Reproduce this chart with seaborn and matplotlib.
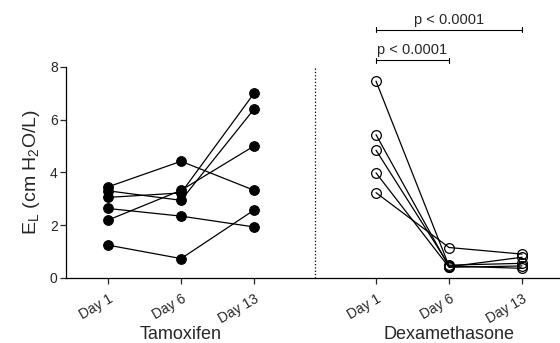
import seaborn as sns
import matplotlib.pyplot as plt
import matplotlib.transforms as mtransforms
import pandas as pd

sns.set_style("white")
plt.rcParams['font.family'] = ['Liberation Sans', 'DejaVu Sans']
plt.rcParams['mathtext.fontset'] = 'custom'
plt.rcParams['mathtext.rm'] = 'Liberation Sans'

# data
days = ['Day 1', 'Day 6', 'Day 13']
tam_pos = [0, 1, 2]
dex_pos = [3.67, 4.67, 5.67]

tam_day1 = [3.45, 3.30, 3.05, 2.19, 2.63, 1.24]
tam_day6 = [4.42, 2.94, 3.22, 3.32, 2.34, 0.73]
tam_day13 = [3.32, 6.40, 7.00, 5.00, 1.93, 2.57]

dex_day1 = [3.23, 7.46, 5.43, 4.84, 3.98]
dex_day6 = [1.15, 0.45, 0.42, 0.48, 0.40]
dex_day13 = [0.90, 0.36, 0.78, 0.55, 0.45]

p_labels = ['p < 0.0001', 'p < 0.0001']

rows = []
for i in range(len(tam_day1)):
    for pos, vals in zip(tam_pos, [tam_day1, tam_day6, tam_day13]):
        rows.append({'group': 'Tamoxifen', 'subject': 'T%d' % i, 'pos': pos, 'EL': vals[i]})
for i in range(len(dex_day1)):
    for pos, vals in zip(dex_pos, [dex_day1, dex_day6, dex_day13]):
        rows.append({'group': 'Dexamethasone', 'subject': 'D%d' % i, 'pos': pos, 'EL': vals[i]})
df = pd.DataFrame(rows)

fig = plt.figure(figsize=(5.6, 3.43), dpi=100)
ax = fig.add_axes([0.118, 0.19, 0.882, 0.615])

tam = df[df['group'] == 'Tamoxifen']
dex = df[df['group'] == 'Dexamethasone']
sns.lineplot(data=tam, x='pos', y='EL', units='subject', estimator=None, color='black',
             lw=0.9, marker='o', ms=7, mfc='black', mec='black', ax=ax, legend=False)
sns.lineplot(data=dex, x='pos', y='EL', units='subject', estimator=None, color='black',
             lw=0.9, marker='o', ms=7, mfc='none', mec='black', mew=0.9, ax=ax, legend=False)

# dotted separator
ax.plot([2.84, 2.84], [0, 8], ls=':', color='black', lw=0.9)

ax.set_xlim(-0.575, 6.19)
ax.set_ylim(0, 8)
ax.set_yticks([0, 2, 4, 6, 8])
ax.set_xticks(tam_pos + dex_pos)
ax.set_xticklabels(days + days, rotation=30, ha='right', rotation_mode='anchor', fontsize=10)
ax.tick_params(axis='y', labelsize=10, direction='out', length=4, width=0.9, left=True, pad=2)
ax.tick_params(axis='x', direction='out', length=4, width=0.9, bottom=True, pad=6)
for s in ['top', 'right']:
    ax.spines[s].set_visible(False)
for s in ['left', 'bottom']:
    ax.spines[s].set_color('black')
    ax.spines[s].set_linewidth(0.9)
ax.set_xlabel('')
ax.set_ylabel(r'E$_\mathregular{L}$ (cm H$_\mathregular{2}$O/L)', fontsize=14, labelpad=6)

# group labels near the bottom edge
trans = mtransforms.blended_transform_factory(ax.transData, fig.transFigure)
ax.text(tam_pos[1], 0.013, 'Tamoxifen', ha='center', va='baseline', fontsize=13, transform=trans)
ax.text(dex_pos[1], 0.013, 'Dexamethasone', ha='center', va='baseline', fontsize=13, transform=trans)

# significance brackets
def bracket(x1, x2, y, label):
    ax.plot([x1, x2], [y, y], color='black', lw=0.8, clip_on=False)
    for xx in [x1, x2]:
        ax.plot([xx, xx], [y - 0.1, y + 0.1], color='black', lw=0.8, clip_on=False)
    ax.text((x1 + x2) / 2, y + 0.12, label, ha='center', va='bottom', fontsize=10.5)

bracket(dex_pos[0], dex_pos[1], 8.25, p_labels[0])
bracket(dex_pos[0], dex_pos[2], 9.41, p_labels[1])

plt.savefig('out.png', dpi=100)
